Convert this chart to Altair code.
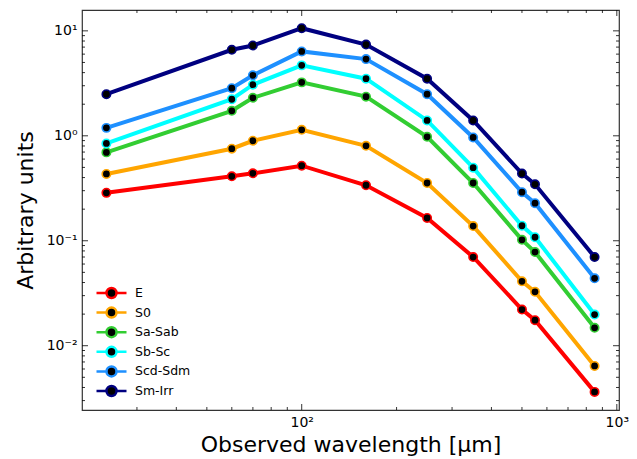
import altair as alt
import pandas as pd

wavelengths = [24, 60, 70, 100, 160, 250, 350, 500, 550, 850]
series_names = ["E", "S0", "Sa-Sab", "Sb-Sc", "Scd-Sdm", "Sm-Irr"]
series_colors = ["red", "orange", "limegreen", "cyan", "dodgerblue", "navy"]

flux_E = [0.286, 0.411, 0.439, 0.519, 0.338, 0.165, 0.0700, 0.0221, 0.0175, 0.00363]
flux_S0 = [0.433, 0.753, 0.897, 1.14, 0.803, 0.355, 0.138, 0.0411, 0.0326, 0.00641]
flux_Sa = [0.695, 1.73, 2.30, 3.23, 2.36, 0.978, 0.355, 0.102, 0.078, 0.0148]
flux_Sb = [0.845, 2.23, 3.07, 4.69, 3.50, 1.40, 0.497, 0.139, 0.108, 0.0198]
flux_Scd = [1.19, 2.84, 3.77, 6.37, 5.38, 2.49, 0.964, 0.290, 0.228, 0.0439]
flux_Sm = [2.49, 6.6, 7.25, 10.6, 7.41, 3.50, 1.40, 0.437, 0.345, 0.0700]
all_flux = [flux_E, flux_S0, flux_Sa, flux_Sb, flux_Scd, flux_Sm]

x_major = [100, 1000]
x_minor = [30, 40, 50, 60, 70, 80, 90, 200, 300, 400, 500, 600, 700, 800, 900]
y_major = [0.01, 0.1, 1, 10]
y_minor = [0.003, 0.004, 0.005, 0.006, 0.007, 0.008, 0.009,
           0.02, 0.03, 0.04, 0.05, 0.06, 0.07, 0.08, 0.09,
           0.2, 0.3, 0.4, 0.5, 0.6, 0.7, 0.8, 0.9,
           2, 3, 4, 5, 6, 7, 8, 9]
x_domain = [20.08, 1016]
y_domain = [0.00244, 15.8]

W, H = 537, 400
FONT = "DejaVu Sans"

rows = []
for name, vals in zip(series_names, all_flux):
    for w, v in zip(wavelengths, vals):
        rows.append({"series": name, "wavelength": w, "flux": v})
df = pd.DataFrame(rows)

xscale = alt.Scale(type="log", domain=x_domain, nice=False, zero=False)
yscale = alt.Scale(type="log", domain=y_domain, nice=False, zero=False)
cscale = alt.Scale(domain=series_names, range=series_colors)

# line with a circle marker, shifted right so the entry clip keeps all of it
legend_path = ("M-1,0L1,0M3,0L5,0"
               "M1,0A1,1,0,1,1,3,0A1,1,0,1,1,1,0Z")

x_axis = alt.Axis(values=x_major, labelExpr="datum.value < 500 ? '10²' : '10³'",
                  title="Observed wavelength [μm]", ticks=False, domain=False, grid=False,
                  labelFontSize=14, titleFontSize=22, labelPadding=5, titlePadding=5,
                  labelFont=FONT, titleFont=FONT, labelColor="black", titleColor="black",
                  titleFontWeight="normal")
y_axis = alt.Axis(values=y_major,
                  labelExpr="datum.value < 0.05 ? '10⁻²' : datum.value < 0.5 ? '10⁻¹' : datum.value < 5 ? '10⁰' : '10¹'",
                  title="Arbitrary units", ticks=False, domain=False, grid=False,
                  labelFontSize=14, titleFontSize=22, labelPadding=5, titlePadding=9,
                  labelFont=FONT, titleFont=FONT, labelColor="black", titleColor="black",
                  titleFontWeight="normal")

legend = alt.Legend(orient="none", legendX=13, legendY=276, title=None,
                    symbolType=legend_path, symbolSize=100, symbolStrokeWidth=2.5,
                    symbolFillColor="black", labelFontSize=12.5, labelFont=FONT,
                    labelColor="black", rowPadding=5.6, labelOffset=27,
                    clipHeight=14, symbolOpacity=1)

X = alt.X("wavelength:Q", scale=xscale, axis=x_axis)
Y = alt.Y("flux:Q", scale=yscale, axis=y_axis)
C = alt.Color("series:N", scale=cscale, legend=legend)

layers = []
for name in series_names:
    base = alt.Chart(df).transform_filter(alt.datum.series == name)
    line = base.mark_line(strokeWidth=4, clip=True).encode(
        x=X, y=Y, color=C, order="wavelength:Q")
    pts = base.mark_point(filled=False, fill="black", fillOpacity=1, opacity=1,
                          size=70, strokeWidth=1.6, shape="circle").encode(
        x=X, y=Y, color=C)
    layers += [line, pts]


def xticks(values, length):
    d = pd.DataFrame({"wavelength": values})
    b = alt.Chart(d).mark_rule(color="black", strokeWidth=0.8).encode(
        x=X, y=alt.value(H), y2=alt.value(H - length))
    t = alt.Chart(d).mark_rule(color="black", strokeWidth=0.8).encode(
        x=X, y=alt.value(0), y2=alt.value(length))
    return [b, t]


def yticks(values, length):
    d = pd.DataFrame({"flux": values})
    l = alt.Chart(d).mark_rule(color="black", strokeWidth=0.8).encode(
        y=Y, x=alt.value(0), x2=alt.value(length))
    r = alt.Chart(d).mark_rule(color="black", strokeWidth=0.8).encode(
        y=Y, x=alt.value(W), x2=alt.value(W - length))
    return [l, r]


tick_layers = xticks(x_major, 6) + xticks(x_minor, 3) + yticks(y_major, 6) + yticks(y_minor, 3)

chart = alt.layer(*(layers + tick_layers)).properties(
    width=W, height=H,
    background="white",
    autosize=alt.AutoSizeParams(type="none"),
    padding={"left": 82, "top": 10, "right": 18, "bottom": 49},
).configure_view(stroke="#333333", strokeWidth=1.2)

chart.save("out.html", embed_options={"renderer": "svg", "actions": False})
